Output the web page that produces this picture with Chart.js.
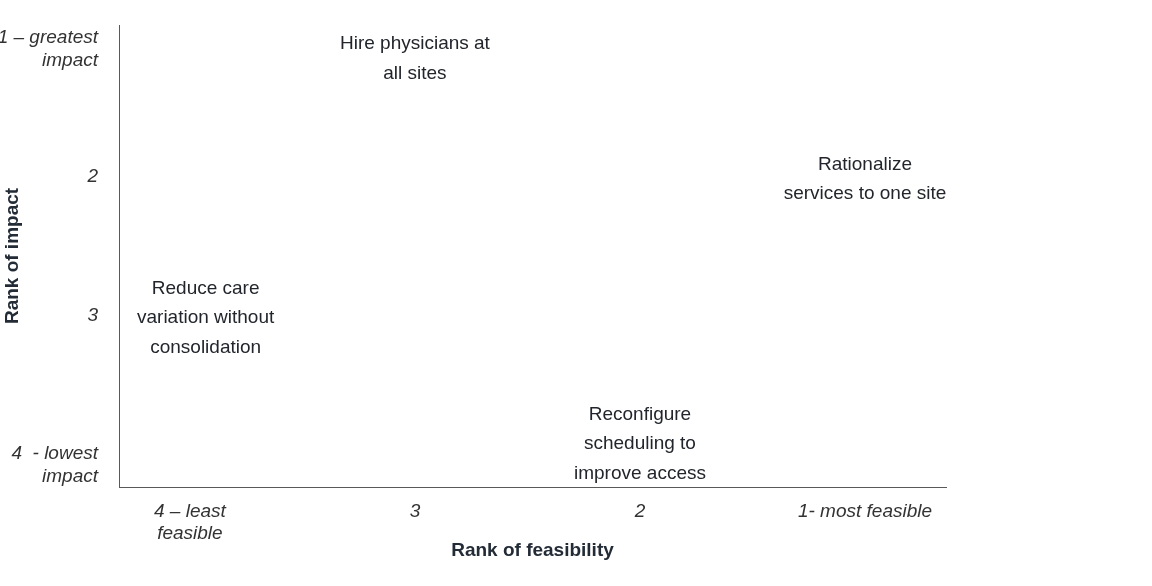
<!DOCTYPE html>
<html>
<head>
<meta charset="utf-8">
<style>
  html, body { margin: 0; padding: 0; background: #ffffff; }
  #wrap { width: 1152px; height: 586px; position: relative; }
</style>
<script src="https://cdn.jsdelivr.net/npm/chart.js@4/dist/chart.umd.min.js"></script>
</head>
<body>
<div id="wrap"><canvas id="c" width="1152" height="586"></canvas></div>
<script>
// ---- data ----
const optionLabels = [
  ["Hire physicians at", "all sites"],
  ["Rationalize", "services to one site"],
  ["Reduce care", "variation without", "consolidation"],
  ["Reconfigure", "scheduling to", "improve access"]
];
const feasibilityRank = [3, 1, 3.93, 2];
const impactRank = [1.15, 2.02, 3.02, 3.93];

const feasibilityTicks = [4, 3, 2, 1];
const feasibilityTickLabels = [["4 – least", "feasible"], "3", "2", "1- most feasible"];
const impactTicks = [1, 2, 3, 4];
const impactTickLabels = [["1 – greatest", "impact"], "2", "3", ["4  - lowest", "impact"]];

const FONT = '"Liberation Sans", Arial, sans-serif';
const AXIS_COLOR = '#595959';

const points = feasibilityRank.map((x, i) => ({ x: x, y: impactRank[i] }));

const textLabelsPlugin = {
  id: 'textLabels',
  afterDatasetsDraw(chart) {
    const ctx = chart.ctx;
    const meta = chart.getDatasetMeta(0);
    ctx.save();
    ctx.font = '19px ' + FONT;
    ctx.fillStyle = '#22262c';
    ctx.textAlign = 'center';
    ctx.textBaseline = 'middle';
    const lh = 29.5;
    meta.data.forEach((el, i) => {
      const lines = optionLabels[i];
      const start = el.y - (lines.length - 1) * lh / 2;
      lines.forEach((ln, j) => ctx.fillText(ln, el.x, start + j * lh));
    });
    ctx.restore();
  }
};

new Chart(document.getElementById('c'), {
  type: 'scatter',
  data: {
    datasets: [{
      data: points,
      pointRadius: 0,
      pointHoverRadius: 0,
      showLine: false
    }]
  },
  options: {
    responsive: false,
    animation: false,
    events: [],
    layout: { padding: { left: 0, right: 206, top: 25, bottom: 0 } },
    plugins: { legend: { display: false }, tooltip: { enabled: false } },
    scales: {
      x: {
        type: 'linear',
        reverse: true,
        min: 0.64,
        max: 4.315,
        afterBuildTicks(s) { s.ticks = feasibilityTicks.map(v => ({ value: v })); },
        afterFit(s) { s.height = 99; s.paddingLeft = 0; s.paddingRight = 0; },
        grid: { display: false, drawTicks: false },
        border: { display: true, color: AXIS_COLOR, width: 1 },
        ticks: {
          padding: 13,
          maxRotation: 0,
          autoSkip: false,
          color: '#333333',
          font: { family: FONT, size: 19, style: 'italic' },
          callback(v) {
            const i = feasibilityTicks.indexOf(v);
            return i >= 0 ? feasibilityTickLabels[i] : '';
          }
        },
        title: {
          display: true,
          text: 'Rank of feasibility',
          color: '#222b36',
          font: { family: FONT, size: 19, weight: 'bold' },
          padding: { top: 0, bottom: 24 }
        }
      },
      y: {
        type: 'linear',
        reverse: true,
        min: 0.905,
        max: 4.24,
        afterBuildTicks(s) { s.ticks = impactTicks.map(v => ({ value: v })); },
        afterFit(s) { s.width = 119; s.paddingTop = 0; s.paddingBottom = 0; },
        grid: { display: false, drawTicks: false },
        border: { display: true, color: AXIS_COLOR, width: 1 },
        ticks: {
          padding: 21,
          autoSkip: false,
          color: '#333333',
          font: { family: FONT, size: 19, style: 'italic' },
          callback(v) {
            const i = impactTicks.indexOf(v);
            if (i < 0) return '';
            const lab = impactTickLabels[i];
            // multi-line labels: first line aligned with the tick
            return Array.isArray(lab) ? [''].concat(lab) : lab;
          }
        },
        title: {
          display: true,
          text: 'Rank of impact',
          color: '#222b36',
          font: { family: FONT, size: 19, weight: 'bold' },
          padding: { top: 1, bottom: 0 }
        }
      }
    }
  },
  plugins: [textLabelsPlugin]
});
</script>
</body>
</html>
